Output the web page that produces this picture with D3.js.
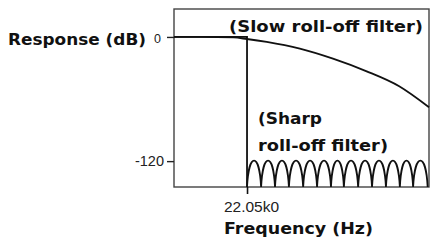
<!DOCTYPE html>
<html>
<head>
<meta charset="utf-8">
<script src="https://cdn.jsdelivr.net/npm/d3@7"></script>
<style>
  body { margin: 0; background: #fff; }
  svg { display: block; }
  .lbl { font-family: "DejaVu Sans", sans-serif; font-weight: 700; fill: #111; }
  .tick-lbl { font-family: "Liberation Sans", Arial, sans-serif; fill: #222; }
</style>
</head>
<body>
<svg id="chart" width="434" height="242"></svg>
<script>
// Slow roll-off filter response (freq in kHz-ish units, dB)
const slowFreq = [0, 8, 18, 22, 28, 38, 48, 58, 68, 77];
const slowDb = [0, 0, -0.5, -2, -4.8, -11.3, -21, -33, -47.7, -68];

// Sharp roll-off filter: passband then a brick wall at 22.05k
const sharpFreq = [0, 22.05, 22.05];
const sharpDb = [0, 0, -145];

// stopband ripple nulls and the peak level of each lobe
const rippleNulls = [22.05, 26.3, 30.5, 34.7, 39.0, 43.2, 47.4, 51.3, 55.6, 59.8, 64.0, 68.2, 72.2, 76.6];
const ripplePeakDb = -119.5;
const floorDb = -145;

const yTicks = [0, -120];
const yTickLabels = ['0', '-120'];
const xTicks = [22.05];
const xTickLabels = ['22.05k0'];

const svg = d3.select('#chart');
const plotL = 174, plotR = 429, plotT = 9, plotB = 187;

const x = d3.scaleLinear().domain([0, 77]).range([plotL, plotR]);
const y = d3.scaleLinear().domain([floorDb, 27]).range([plotB, plotT]);

// plot frame
svg.append('rect')
  .attr('x', plotL).attr('y', plotT)
  .attr('width', plotR - plotL).attr('height', plotB - plotT)
  .attr('fill', 'none').attr('stroke', '#444').attr('stroke-width', 1.4);

// y axis ticks
const yAxis = d3.axisLeft(y).tickValues(yTicks).tickSize(7).tickPadding(3)
  .tickFormat((d, i) => yTickLabels[i]);
const gy = svg.append('g').attr('transform', `translate(${plotL},0)`).call(yAxis);
gy.select('.domain').remove();
gy.selectAll('.tick line').attr('stroke', '#222').attr('stroke-width', 1.4);
gy.selectAll('.tick text').attr('class', 'tick-lbl').style('font-size', '14.5px');
gy.selectAll('.tick').filter(d => d === 0).select('text')
  .style('font-size', '12.5px').attr('dy', '0.45em').attr('x', -13);

// x axis tick
const xAxis = d3.axisBottom(x).tickValues(xTicks).tickSize(7).tickPadding(7)
  .tickFormat((d, i) => xTickLabels[i]);
const gx = svg.append('g').attr('transform', `translate(0,${plotB})`).call(xAxis);
gx.select('.domain').remove();
gx.selectAll('.tick line').attr('stroke', '#111').attr('stroke-width', 1.6);
gx.selectAll('.tick text').attr('class', 'tick-lbl').style('font-size', '15.5px')
  .attr('dx', 4);

// slow roll-off curve
const slowLine = d3.line().x(d => x(d[0])).y(d => y(d[1])).curve(d3.curveMonotoneX);
svg.append('path')
  .datum(d3.zip(slowFreq, slowDb))
  .attr('d', slowLine)
  .attr('fill', 'none').attr('stroke', '#111').attr('stroke-width', 1.8);

// sharp roll-off: passband + wall
const sharpLine = d3.line().x(d => x(d[0])).y(d => y(d[1]));
svg.append('path')
  .datum(d3.zip(sharpFreq, sharpDb))
  .attr('d', sharpLine)
  .attr('fill', 'none').attr('stroke', '#111').attr('stroke-width', 1.8);

// stopband lobes, one arch between each pair of nulls
const yb = y(floorDb);
const yp = y(ripplePeakDb);
const ctrlY = yb - (yb - yp) / 0.75;
let rip = '';
for (let i = 0; i < rippleNulls.length - 1; i++) {
  const x0 = x(rippleNulls[i]), x1 = x(rippleNulls[i + 1]);
  const w = x1 - x0;
  rip += `M${x0},${yb}C${x0 + w * 0.12},${ctrlY} ${x1 - w * 0.12},${ctrlY} ${x1},${yb}`;
}
svg.append('path')
  .attr('d', rip)
  .attr('fill', 'none').attr('stroke', '#111').attr('stroke-width', 1.8);

// labels (widths fitted to the reference)
function label(txt, lx, ly, size, width) {
  svg.append('text').attr('class', 'lbl').attr('x', lx).attr('y', ly)
    .style('font-size', size + 'px')
    .attr('textLength', width).attr('lengthAdjust', 'spacingAndGlyphs')
    .text(txt);
}
label('Response (dB)', 8, 45, 16.5, 138);
label('Frequency (Hz)', 224, 234, 16.5, 149);
label('(Slow roll-off filter)', 229, 32, 15.5, 194);
label('(Sharp', 258, 124, 15.5, 64);
label('roll-off filter)', 258, 151, 15.5, 130);
</script>
</body>
</html>
